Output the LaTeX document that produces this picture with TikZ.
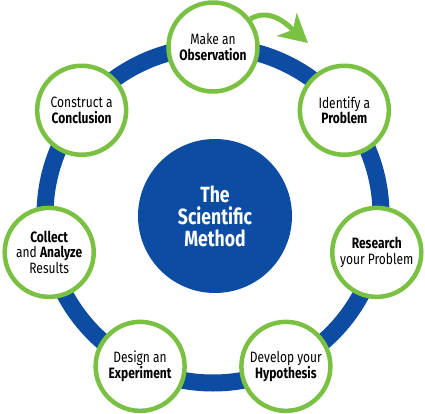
\documentclass[tikz,border=0pt]{standalone}
\usepackage{fontspec}
\setmainfont[FakeStretch=0.8]{Fira Sans}
\usetikzlibrary{arrows.meta}
\definecolor{ringblue}{RGB}{12,76,162}
\definecolor{leafgreen}{RGB}{122,193,67}
\begin{document}
\begin{tikzpicture}[x=1pt,y=1pt,
  stepnode/.style={circle, draw=leafgreen, line width=4.5pt, fill=white,
    minimum size=89pt, inner sep=0pt, align=center,
    font=\fontsize{15}{15.5}\selectfont},
  hub/.style={circle, fill=ringblue, minimum size=154pt, inner sep=0pt,
    align=center, text=white, font=\bfseries\fontsize{22}{22}\selectfont},
  cyclearrow/.style={leafgreen, line width=5pt,
    -{Stealth[length=28pt,width=30pt,inset=8pt]}}]
\useasboundingbox (0,0) rectangle (425,-414);
\coordinate (c) at (213,-215);
\draw[ringblue, line width=17pt] (c) circle (168);
\node[hub] (hub) at (215,-216) {The\\Scientific\\Method};
\begin{scope}[shift={(213,-215)}]
\node[stepnode] (obs) at (90:168) {Make an\\\textbf{Observation}};
\node[stepnode] (prob) at (38.571:168) {Identify a\\\textbf{Problem}};
\node[stepnode] (res) at (-12.857:168) {\textbf{Research}\\your Problem};
\node[stepnode] (hyp) at (-64.286:168) {Develop your\\\textbf{Hypothesis}};
\node[stepnode] (exp) at (-115.714:168) {Design an\\\textbf{Experiment}};
\node[stepnode] (col) at (-167.143:168) {\textbf{Collect}\\and \textbf{Analyze}\\Results};
\node[stepnode] (con) at (141.429:168) {Construct a\\\textbf{Conclusion}};
\end{scope}
\coordinate (arrowtip) at (308,-43);
\draw[cyclearrow] (obs.37) to[out=30,in=139] (arrowtip);
\end{tikzpicture}
\end{document}
